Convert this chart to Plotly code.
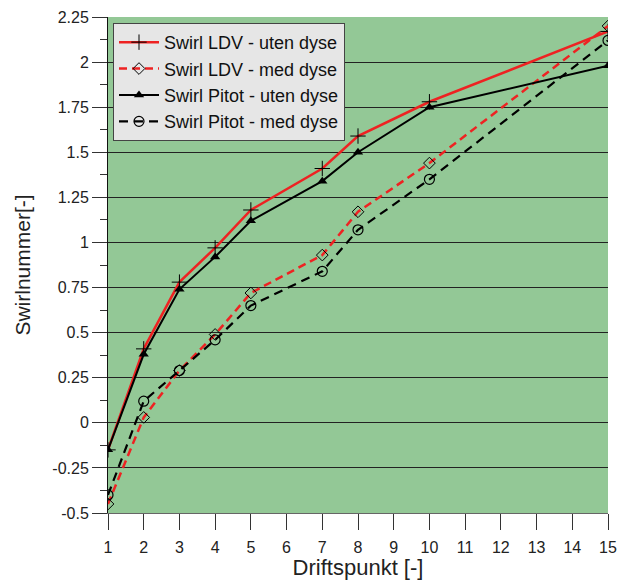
import plotly.graph_objects as go

# Operating points (Driftspunkt) and measured swirl numbers
driftspunkt = [1, 2, 3, 4, 5, 7, 8, 10, 15]
ldv_uten = [-0.15, 0.41, 0.78, 0.97, 1.18, 1.41, 1.59, 1.78, 2.17]
ldv_med = [-0.45, 0.03, 0.29, 0.49, 0.72, 0.93, 1.17, 1.44, 2.20]
pitot_uten = [-0.15, 0.38, 0.74, 0.92, 1.12, 1.34, 1.50, 1.75, 1.98]
pitot_med = [-0.40, 0.12, 0.29, 0.46, 0.65, 0.84, 1.07, 1.35, 2.12]

y_ticks = [-0.5, -0.25, 0, 0.25, 0.5, 0.75, 1, 1.25, 1.5, 1.75, 2, 2.25]
y_ticklabels = ["-0.5", "-0.25", "0", "0.25", "0.5", "0.75", "1", "1.25", "1.5", "1.75", "2", "2.25"]
x_ticks = list(range(1, 16))

FONT = "Liberation Sans, Arial, sans-serif"

fig = go.Figure()

fig.add_trace(go.Scatter(
    x=driftspunkt, y=ldv_uten, name="Swirl LDV - uten dyse",
    mode="lines+markers",
    line=dict(color="#ee2222", width=2.5),
    marker=dict(symbol="cross-thin", size=11, color="black",
                line=dict(color="black", width=1)),
))
fig.add_trace(go.Scatter(
    x=driftspunkt, y=ldv_med, name="Swirl LDV - med dyse",
    mode="lines+markers",
    line=dict(color="#ee2222", width=2.5, dash="8px,5px"),
    marker=dict(symbol="diamond-open", size=9, color="black",
                line=dict(color="black", width=1)),
))
fig.add_trace(go.Scatter(
    x=driftspunkt, y=pitot_uten, name="Swirl Pitot - uten dyse",
    mode="lines+markers",
    line=dict(color="black", width=2),
    marker=dict(symbol="triangle-up", size=9, color="black"),
))
fig.add_trace(go.Scatter(
    x=driftspunkt, y=pitot_med, name="Swirl Pitot - med dyse",
    mode="lines+markers",
    line=dict(color="black", width=2.2, dash="9px,6px"),
    marker=dict(symbol="circle-open", size=10, color="black",
                line=dict(color="black", width=1.2)),
))

fig.update_layout(
    width=617, height=580,
    margin=dict(l=108, r=9, t=17, b=67, autoexpand=False),
    paper_bgcolor="white",
    plot_bgcolor="#93c896",
    font=dict(family=FONT, size=16, color="#222"),
    showlegend=True,
    legend=dict(
        x=0.01, y=0.988, xanchor="left", yanchor="top",
        bgcolor="#e6e6e6", bordercolor="#444", borderwidth=1,
        font=dict(family=FONT, size=18, color="#111"),
        tracegroupgap=0, itemwidth=40,
    ),
)

fig.update_xaxes(
    range=[1, 15], tickmode="array", tickvals=x_ticks,
    ticks="outside", ticklen=16, tickcolor="#333", tickwidth=1,
    showline=True, linecolor="#666", linewidth=1,
    showgrid=False, zeroline=False, automargin=False,
    ticklabelstandoff=4,
    tickfont=dict(family=FONT, size=16, color="#222"),
    title=dict(text="Driftspunkt [-]", font=dict(family=FONT, size=22, color="#222"), standoff=0),
)

fig.update_yaxes(
    range=[-0.5, 2.25], tickmode="array", tickvals=y_ticks, ticktext=y_ticklabels,
    ticks="outside", ticklen=15, tickcolor="#333", tickwidth=1,
    minor=dict(ticks="outside", ticklen=7, dtick=0.125, tick0=0, tickcolor="#333", showgrid=False),
    showline=True, linecolor="#111", linewidth=1,
    showgrid=True, gridcolor="#222", gridwidth=1,
    zeroline=False, automargin=False,
    tickfont=dict(family=FONT, size=16, color="#222"),
    title=dict(text="Swirlnummer[-]", font=dict(family=FONT, size=21, color="#222"), standoff=15),
)

fig.write_html("out.html")
